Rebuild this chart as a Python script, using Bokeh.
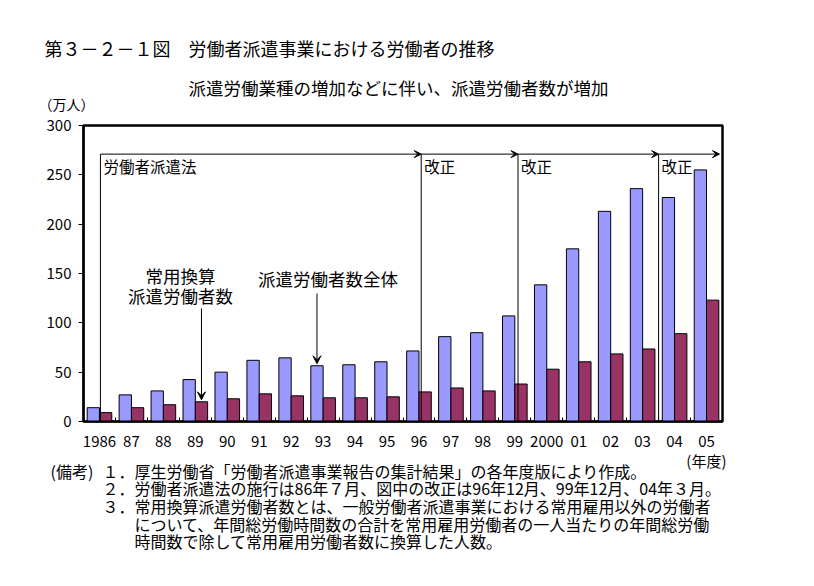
import numpy as np
from bokeh.plotting import figure
from bokeh.layouts import column
from bokeh.models import (Range1d, FixedTicker, CustomJSTickFormatter, Label,
                          Arrow, VeeHead, ColumnDataSource)
from bokeh.embed import file_html
from bokeh.resources import INLINE

# ---------------- data ----------------
years = ["1986", "87", "88", "89", "90", "91", "92", "93", "94", "95",
         "96", "97", "98", "99", "2000", "01", "02", "03", "04", "05"]
total_workers = [14, 27, 31, 42.5, 50, 62, 64.5, 56.5, 57.5, 60.5,
                 71.5, 86, 90, 107, 138.5, 175, 213, 236, 227, 255]
regular_equiv = [9, 14, 17, 20, 23, 28, 26, 24, 24, 25,
                 30, 34, 31, 38, 53, 60.5, 68.5, 73.5, 89, 123]
y_ticks = [0, 50, 100, 150, 200, 250, 300]

# law enforcement / amendments (86年7月, 96年12月, 99年12月, 04年3月) along the fiscal-year axis
event_labels = ["労働者派遣法", "改正", "改正", "改正"]
event_pos = [0.53, 10.57, 13.6, 18.0]
event_level = 271

title = "第３－２－１図　労働者派遣事業における労働者の推移"
subtitle = "派遣労働業種の増加などに伴い、派遣労働者数が増加"
y_unit = "（万人）"
x_unit = "(年度)"
notes_head = "(備考)"
notes = [
    "１．厚生労働省「労働者派遣事業報告の集計結果」の各年度版により作成。",
    "２．労働者派遣法の施行は86年７月、図中の改正は96年12月、99年12月、04年３月。",
    "３．常用換算派遣労働者数とは、一般労働者派遣事業における常用雇用以外の労働者",
    "について、年間総労働時間数の合計を常用雇用労働者の一人当たりの年間総労働",
    "時間数で除して常用雇用労働者数に換算した人数。",
]

# ---------------- layout ----------------
W = 814
TOP_H = 112                 # header strip height
MAIN_TOP = TOP_H            # page y of main figure top
FRAME_L, FRAME_T, FRAME_R, FRAME_B = 83, 125, 722, 421   # page px of the plot frame
MAIN_B_BORDER = 30
MAIN_H = FRAME_B - MAIN_TOP + MAIN_B_BORDER
BOT_TOP = MAIN_TOP + MAIN_H
BOT_H = 586 - BOT_TOP
n = len(years)
Y_MAX = 300
frame_w = FRAME_R - FRAME_L
frame_h = FRAME_B - FRAME_T

FONT = "Noto Sans CJK JP"
BLUE = "#9999FF"
MAROON = "#993366"


def px_x(px):   # page pixel -> data x of the main chart
    return (px - FRAME_L) * n / frame_w


def px_y(py):   # page pixel -> data y of the main chart
    return (FRAME_B - py) * Y_MAX / frame_h


def text_strip(height):
    f = figure(width=W, height=height, output_backend="svg", toolbar_location=None,
               x_range=Range1d(0, W), y_range=Range1d(height, 0),
               x_axis_location=None, y_axis_location=None,
               min_border=0, min_border_left=0, min_border_right=0,
               min_border_top=0, min_border_bottom=0, frame_align=False)
    f.xgrid.visible = False
    f.ygrid.visible = False
    f.outline_line_color = None
    f.background_fill_color = "white"
    f.border_fill_color = "white"
    return f


def strip_text(f, top, px, py, text, size, align="left"):
    f.add_layout(Label(x=px, y=py - top, text=text, text_font=FONT,
                       text_font_size=size, text_align=align, text_baseline="middle",
                       text_color="black"))


# ---------------- header ----------------
head = text_strip(TOP_H)
strip_text(head, 0, 44, 47, title, "18px")
strip_text(head, 0, 188, 87, subtitle, "17.5px")
strip_text(head, 0, 38, 103, y_unit, "14px")

# ---------------- main chart ----------------
p = figure(width=W, height=MAIN_H, output_backend="svg", toolbar_location=None,
           x_range=Range1d(0, n), y_range=Range1d(0, Y_MAX), frame_align=False,
           min_border_left=FRAME_L, min_border_top=FRAME_T - MAIN_TOP,
           min_border_right=W - FRAME_R, min_border_bottom=MAIN_B_BORDER)
p.xgrid.visible = False
p.ygrid.visible = False
p.outline_line_color = "black"
p.outline_line_width = 2.5
p.background_fill_color = "white"
p.border_fill_color = "white"

centers = np.arange(n) + 0.5
off = 0.1925
bw = 0.385
src = ColumnDataSource(dict(xb=centers - off, xm=centers + off,
                            total=total_workers, reg=regular_equiv))
p.vbar(x="xb", top="total", width=bw, bottom=0, source=src,
       fill_color=BLUE, line_color="black", line_width=1)
p.vbar(x="xm", top="reg", width=bw, bottom=0, source=src,
       fill_color=MAROON, line_color="black", line_width=1)

p.yaxis.ticker = FixedTicker(ticks=y_ticks)
p.yaxis.major_tick_out = 5
p.yaxis.major_tick_in = 0
p.yaxis.minor_tick_out = 0
p.yaxis.minor_tick_in = 0
p.yaxis.axis_line_width = 2
p.yaxis.major_label_standoff = 7
p.yaxis.major_label_text_font = FONT
p.yaxis.major_label_text_font_size = "15px"
p.yaxis.major_label_text_color = "black"

p.xaxis.ticker = FixedTicker(ticks=list(centers), minor_ticks=list(range(n + 1)))
p.xaxis.formatter = CustomJSTickFormatter(args=dict(labels=years),
                                          code="return labels[Math.floor(tick)];")
p.xaxis.major_tick_out = 0
p.xaxis.major_tick_in = 0
p.xaxis.minor_tick_in = 4
p.xaxis.minor_tick_out = 0
p.xaxis.axis_line_width = 2
p.xaxis.major_label_standoff = 14
p.xaxis.major_label_text_font = FONT
p.xaxis.major_label_text_font_size = "15px"
p.xaxis.major_label_text_color = "black"

# event brackets
ends = event_pos[1:] + [px_x(719)]
for xs, xe, lab in zip(event_pos, ends, event_labels):
    p.segment(x0=[xs], y0=[0], x1=[xs], y1=[event_level], line_color="black", line_width=1)
    p.add_layout(Arrow(x_start=xs, y_start=event_level, x_end=xe, y_end=event_level,
                       line_color="black", line_width=1,
                       end=VeeHead(size=7, fill_color="black", line_color="black", line_width=1)))
    p.add_layout(Label(x=xs, y=event_level, x_offset=3, y_offset=-12, text=lab,
                       text_font=FONT, text_font_size="15.5px", text_color="black",
                       text_baseline="middle", text_align="left"))

# series annotations
ann_font = "17.5px"
for txt, px, py in [("常用換算", 180, 275), ("派遣労働者数", 180, 295),
                    ("派遣労働者数全体", 327.5, 278)]:
    p.add_layout(Label(x=px_x(px), y=px_y(py), text=txt, text_font=FONT,
                       text_font_size=ann_font, text_align="center",
                       text_baseline="middle", text_color="black"))
p.add_layout(Arrow(x_start=centers[3] + off, y_start=px_y(308),
                   x_end=centers[3] + off, y_end=regular_equiv[3] + 2,
                   line_color="black", line_width=1,
                   end=VeeHead(size=8, fill_color="black", line_color="black")))
p.add_layout(Arrow(x_start=centers[7] - off, y_start=px_y(293),
                   x_end=centers[7] - off, y_end=total_workers[7] + 2,
                   line_color="black", line_width=1,
                   end=VeeHead(size=8, fill_color="black", line_color="black")))

# ---------------- notes ----------------
foot = text_strip(BOT_H)
strip_text(foot, BOT_TOP, 726, 460, x_unit, "15px", align="right")
strip_text(foot, BOT_TOP, 50, 470, notes_head, "16px")
row_y = [470, 487.7, 505.4, 523.1, 540.8]
row_x = [102, 102, 102, 134, 134]
for t, rx, ry in zip(notes, row_x, row_y):
    strip_text(foot, BOT_TOP, rx, ry, t, "16px")

layout = column(head, p, foot, spacing=0)
open("out.html", "w").write(file_html(layout, INLINE))
